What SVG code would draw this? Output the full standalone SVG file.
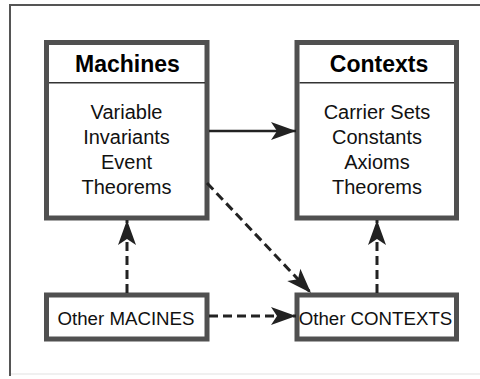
<svg xmlns="http://www.w3.org/2000/svg" width="480" height="379" viewBox="0 0 480 379">
<style>
.box{fill:#fff;stroke:#505050;stroke-width:5}
.div{stroke:#333;stroke-width:1.5}
.title{font-family:"Liberation Sans",Arial,sans-serif;font-weight:bold;font-size:23px;fill:#000;text-anchor:middle}
.body{font-family:"Liberation Sans",Arial,sans-serif;font-size:20px;fill:#111;text-anchor:middle}
.small{font-family:"Liberation Sans",Arial,sans-serif;font-size:18.7px;fill:#111;text-anchor:middle}
.solid{fill:none;stroke:#222;stroke-width:2.5}
.dash{fill:none;stroke:#222;stroke-width:3;stroke-dasharray:9 5}
</style>
<defs>
<marker id="ah" viewBox="-26 -11 27 22" refX="0" refY="0" markerWidth="27" markerHeight="22" markerUnits="userSpaceOnUse" orient="auto">
<path d="M0,0 L-25,-9 L-19,0 L-25,9 Z" fill="#222"/>
</marker>
</defs>
<rect width="480" height="379" fill="#fff"/>
<g id="frame">
<path d="M10,376 L10,5 L480,5" fill="none" stroke="#555" stroke-width="2"/>
<line x1="11" y1="374" x2="480" y2="374" stroke="#ebebeb" stroke-width="1.5"/>
</g>
<g id="machines">
<rect class="box" x="46.5" y="42.5" width="160.5" height="175.5"/>
<line class="div" x1="49" y1="82.7" x2="205" y2="82.7"/>
<text class="title" x="127.5" y="72">Machines</text>
<text class="body" x="126.5" y="118.5">Variable</text>
<text class="body" x="126.5" y="143.5">Invariants</text>
<text class="body" x="126.5" y="168.5">Event</text>
<text class="body" x="126.5" y="193.5">Theorems</text>
</g>
<g id="contexts">
<rect class="box" x="297" y="42.5" width="159.5" height="175.5"/>
<line class="div" x1="299.5" y1="82.7" x2="454" y2="82.7"/>
<text class="title" x="379" y="72">Contexts</text>
<text class="body" x="377" y="118.5">Carrier Sets</text>
<text class="body" x="377" y="143.5">Constants</text>
<text class="body" x="377" y="168.5">Axioms</text>
<text class="body" x="377" y="193.5">Theorems</text>
</g>
<g id="other-machines">
<rect class="box" x="46.5" y="295" width="160.5" height="44"/>
<text class="small" x="126" y="325">Other MACINES</text>
</g>
<g id="other-contexts">
<rect class="box" x="297" y="295" width="159.5" height="44"/>
<text class="small" x="375.5" y="325">Other CONTEXTS</text>
</g>
<g id="connectors">
<line class="solid" x1="209" y1="131" x2="296" y2="131" marker-end="url(#ah)"/>
<line class="dash" x1="207" y1="183" x2="311" y2="293" marker-end="url(#ah)"/>
<line class="dash" x1="127" y1="293" x2="127" y2="220" marker-end="url(#ah)"/>
<line class="dash" x1="209" y1="316" x2="296" y2="316" marker-end="url(#ah)"/>
<line class="dash" x1="377" y1="293" x2="377" y2="220" marker-end="url(#ah)"/>
</g>
</svg>
